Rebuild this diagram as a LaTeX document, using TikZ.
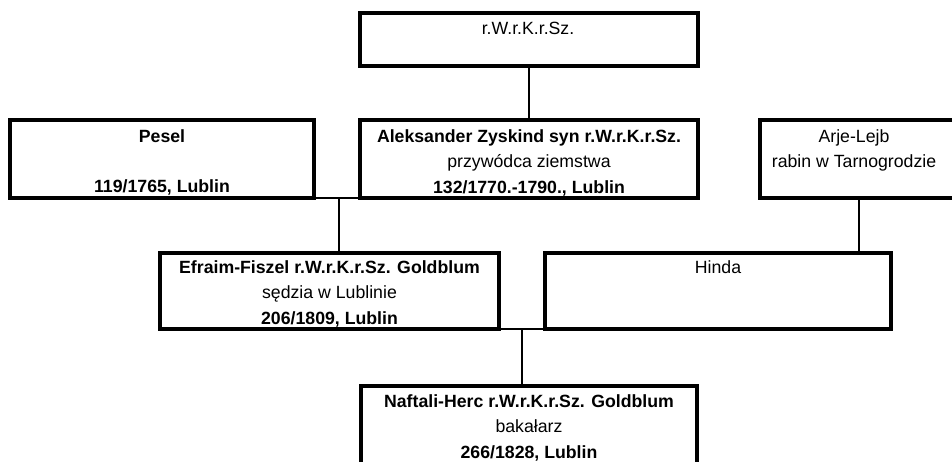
\documentclass[tikz,border=0pt]{standalone}
\usepackage{fontspec}
\setmainfont{Liberation Sans}
\begin{document}
\begin{tikzpicture}[x=1pt,y=-1pt,
  box/.style={draw=black, line width=3.5pt, inner sep=0pt, outer sep=0pt, fill=white},
  txt/.style={anchor=north, inner sep=0pt, align=center, text=black, font=\fontsize{17.7}{25.5}\selectfont},
  conn/.style={draw=black, line width=2pt}]
\useasboundingbox (0,0) rectangle (952,461);
\clip (0,0) rectangle (952,461);
\fill[white] (0,0) rectangle (952,461);
% boxes
\node[box, minimum width=338pt, minimum height=53pt] (top) at (529,39.5) {};
\node[box, minimum width=304pt, minimum height=78pt] (pesel) at (162,159) {};
\node[box, minimum width=338pt, minimum height=78pt] (alek) at (529,159) {};
\node[box, minimum width=198pt, minimum height=78pt] (arje) at (859,159) {};
\node[box, minimum width=339pt, minimum height=76pt] (efraim) at (329.5,291) {};
\node[box, minimum width=346pt, minimum height=76pt] (hinda) at (718,291) {};
\node[box, minimum width=336pt, minimum height=90pt] (naft) at (529,431) {};
% texts
\node[txt] (ttop) at (528,16.2) {\strut r.W.r.K.r.Sz.};
\node[txt] (tpesel) at (162,124.2) {\strut\textbf{Pesel}\\[25pt]\textbf{119/1765, Lublin}};
\node[txt] (talek) at (529,124.2) {\strut\textbf{Aleksander Zyskind syn r.W.r.K.r.Sz.}\\przywódca ziemstwa\\\textbf{132/1770.-1790., Lublin}};
\node[txt] (tarje) at (854,124.2) {\strut Arje-Lejb\\rabin w Tarnogrodzie};
\node[txt] (tefraim) at (329.5,255.2) {\strut\textbf{Efraim-Fiszel r.W.r.K.r.Sz. Goldblum}\\sędzia w Lublinie\\\textbf{206/1809, Lublin}};
\node[txt] (thinda) at (718,255.2) {\strut Hinda};
\node[txt] (tnaft) at (529,389.2) {\strut\textbf{Naftali-Herc r.W.r.K.r.Sz. Goldblum}\\bakałarz\\\textbf{266/1828, Lublin}};
% connectors
\coordinate (pa) at (339,198);
\coordinate (eh) at (522,329);
\draw[conn] (top.south) -- (alek.north);
\draw[conn] (pesel.south east) -- (alek.south west);
\draw[conn] (pa) -- (pa |- efraim.north);
\draw[conn] (arje.south) -- (arje.south |- hinda.north);
\draw[conn] (efraim.south east) -- (hinda.south west);
\draw[conn] (eh) -- (eh |- naft.north);
\end{tikzpicture}
\end{document}
